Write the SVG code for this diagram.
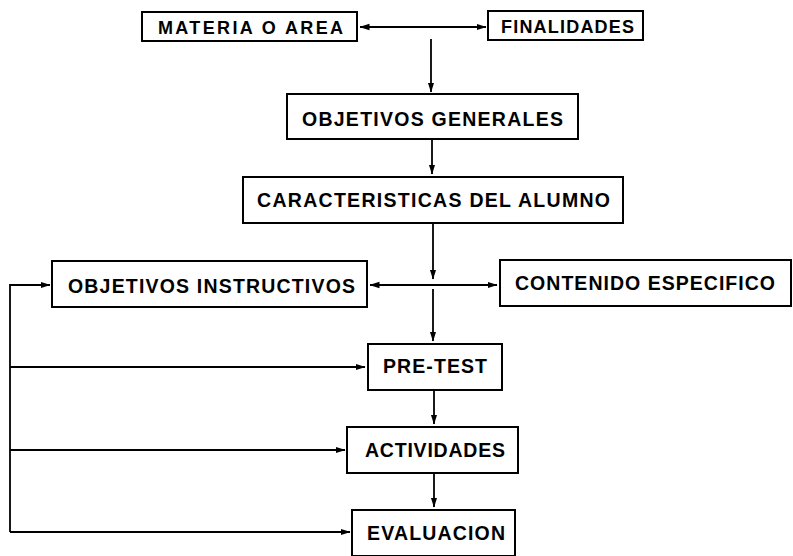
<svg xmlns="http://www.w3.org/2000/svg" width="793" height="556" viewBox="0 0 793 556">
  <style>
    .box { fill: #ffffff; stroke: #000000; stroke-width: 2; }
    .lbl { font-family: "Liberation Sans", Arial, sans-serif; font-weight: bold; font-size: 19.5px; fill: #000000; text-anchor: middle; }
    .sm { font-size: 18px; }
    .ln { fill: none; stroke: #000000; stroke-width: 1.8; }
  </style>
  <defs>
    <marker id="ah" markerWidth="10" markerHeight="8" refX="9.5" refY="4" orient="auto" markerUnits="userSpaceOnUse">
      <path d="M0,0.8 L10,4 L0,7.2 Z" fill="#000000"/>
    </marker>
    <marker id="as" markerWidth="10" markerHeight="8" refX="0.5" refY="4" orient="auto" markerUnits="userSpaceOnUse">
      <path d="M10,0.8 L0,4 L10,7.2 Z" fill="#000000"/>
    </marker>
  </defs>
  <rect width="793" height="556" fill="#ffffff"/>

  <g id="connectors">
    <line class="ln" x1="360" y1="27" x2="486" y2="27" marker-start="url(#as)" marker-end="url(#ah)"/>
    <line class="ln" x1="431" y1="39" x2="431" y2="92" marker-end="url(#ah)"/>
    <line class="ln" x1="432" y1="140" x2="432" y2="174" marker-end="url(#ah)"/>
    <line class="ln" x1="433" y1="224" x2="433" y2="279" marker-end="url(#ah)"/>
    <line class="ln" x1="370" y1="285" x2="497" y2="285" marker-start="url(#as)" marker-end="url(#ah)"/>
    <line class="ln" x1="433" y1="289" x2="433" y2="341" marker-end="url(#ah)"/>
    <line class="ln" x1="434" y1="391" x2="434" y2="424" marker-end="url(#ah)"/>
    <line class="ln" x1="434" y1="474" x2="434" y2="507" marker-end="url(#ah)"/>
    <polyline class="ln" points="10,532 10,285 50,285" marker-end="url(#ah)"/>
    <line class="ln" x1="10" y1="367" x2="365" y2="367" marker-end="url(#ah)"/>
    <line class="ln" x1="10" y1="450" x2="345" y2="450" marker-end="url(#ah)"/>
    <line class="ln" x1="10" y1="532" x2="350" y2="532" marker-end="url(#ah)"/>
  </g>

  <g id="materia">
    <rect class="box" x="142" y="12" width="215" height="29"/>
    <text class="lbl sm" x="250.5" y="34" textLength="185" lengthAdjust="spacing">MATERIA O AREA</text>
  </g>
  <g id="finalidades">
    <rect class="box" x="488" y="11" width="155" height="29"/>
    <text class="lbl sm" x="567.5" y="33" textLength="133" lengthAdjust="spacing">FINALIDADES</text>
  </g>
  <g id="objetivos-generales">
    <rect class="box" x="287" y="94" width="291" height="45"/>
    <text class="lbl" x="432.5" y="126" textLength="261" lengthAdjust="spacing">OBJETIVOS GENERALES</text>
  </g>
  <g id="caracteristicas">
    <rect class="box" x="243" y="177" width="380" height="46"/>
    <text class="lbl" x="433.5" y="206.5" textLength="353" lengthAdjust="spacing">CARACTERISTICAS DEL ALUMNO</text>
  </g>
  <g id="objetivos-instructivos">
    <rect class="box" x="52" y="261" width="315" height="46"/>
    <text class="lbl" x="211.5" y="292.5" textLength="287" lengthAdjust="spacing">OBJETIVOS INSTRUCTIVOS</text>
  </g>
  <g id="contenido">
    <rect class="box" x="500" y="260" width="291" height="46"/>
    <text class="lbl" x="645" y="290" textLength="260" lengthAdjust="spacing">CONTENIDO ESPECIFICO</text>
  </g>
  <g id="pretest">
    <rect class="box" x="368" y="344" width="134" height="46"/>
    <text class="lbl" x="435" y="373" textLength="104" lengthAdjust="spacing">PRE-TEST</text>
  </g>
  <g id="actividades">
    <rect class="box" x="347" y="427" width="171" height="46"/>
    <text class="lbl" x="435" y="457" textLength="140" lengthAdjust="spacing">ACTIVIDADES</text>
  </g>
  <g id="evaluacion">
    <rect class="box" x="352" y="510" width="163" height="46"/>
    <text class="lbl" x="436" y="540" textLength="138" lengthAdjust="spacing">EVALUACION</text>
  </g>
</svg>
